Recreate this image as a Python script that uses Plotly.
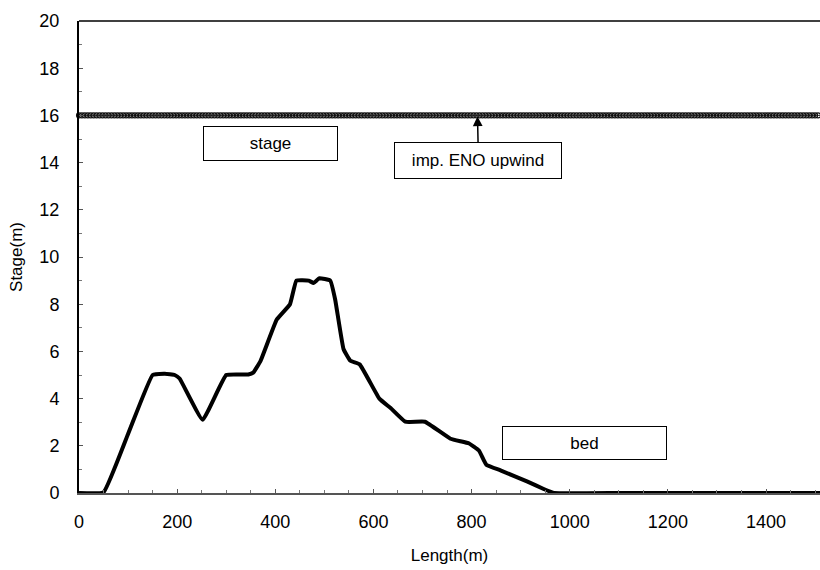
import plotly.graph_objects as go

# Bed profile
bed_x = [0, 50, 100, 150, 175, 195, 205, 252, 300, 345, 355, 370, 403, 430, 443,
         468, 478, 490, 512, 522, 539, 553, 572, 612, 635, 665, 705, 757, 795,
         815, 830, 860, 914, 948, 968, 1100, 1200, 1300, 1400, 1520]
bed_y = [0, 0.03, 2.5, 5.0, 5.05, 5.0, 4.85, 3.1, 5.0, 5.02, 5.1, 5.6, 7.35, 8.0, 9.0,
         9.0, 8.9, 9.1, 9.0, 8.2, 6.1, 5.6, 5.45, 4.0, 3.6, 3.02, 3.02, 2.3, 2.1,
         1.8, 1.2, 0.95, 0.48, 0.16, 0.0, 0.0, 0.0, 0.0, 0.0, 0.0]

# Water stage (constant 16 m along the reach, sampled every 6 m)
stage_x = list(range(0, 1524, 6))
stage_level = 16.0
stage_y = [stage_level] * len(stage_x)

x_ticks = [0, 200, 400, 600, 800, 1000, 1200, 1400]
y_ticks = [0, 2, 4, 6, 8, 10, 12, 14, 16, 18, 20]

FONT = "Liberation Sans, Arial, sans-serif"
NARROW = "Liberation Sans Narrow, Arial Narrow, Liberation Sans, sans-serif"

fig = go.Figure()
fig.add_trace(go.Scatter(
    x=stage_x, y=stage_y, mode="lines+markers",
    line=dict(color="#333", width=1),
    marker=dict(symbol="circle-open", size=5, color="#111", line=dict(width=1.1)),
    showlegend=False, cliponaxis=False))
fig.add_trace(go.Scatter(
    x=bed_x, y=bed_y, mode="lines",
    line=dict(color="black", width=4, shape="spline", smoothing=0.3),
    showlegend=False, cliponaxis=False))

box = dict(bordercolor="black", borderwidth=1, bgcolor="white",
           font=dict(family=FONT, size=17, color="black"))
fig.add_annotation(x=390, y=14.8, text="stage", showarrow=False,
                   width=131, height=31, **box)
fig.add_annotation(x=812, y=16, text="imp. ENO upwind", showarrow=True,
                   ax=1, ay=45, arrowhead=2, arrowsize=1.3, arrowwidth=1.5,
                   arrowcolor="black", width=164, height=33, standoff=1, **box)
fig.add_annotation(x=1030, y=2.12, text="bed", showarrow=False,
                   width=161, height=30, **box)

fig.update_layout(
    width=820, height=570,
    margin=dict(l=79, r=0, t=21, b=77),
    paper_bgcolor="white", plot_bgcolor="white",
    font=dict(family=FONT, size=18, color="black"),
    xaxis=dict(range=[0, 1510], tickvals=x_ticks, showgrid=False, zeroline=False,
               showline=True, linecolor="#555", linewidth=1.5,
               ticks="inside", ticklen=4, tickcolor="#555",
               minor=dict(ticks="inside", ticklen=3, dtick=50, tickcolor="#777"),
               ticklabelstandoff=12,
               tickfont=dict(family=NARROW, size=18),
               title=dict(text="Length(m)", font=dict(family=FONT, size=17), standoff=18)),
    yaxis=dict(range=[0, 20], tickvals=y_ticks, showgrid=False, zeroline=False,
               showline=True, linecolor="black", linewidth=2,
               ticks="inside", ticklen=4, tickcolor="#555",
               minor=dict(ticks="inside", ticklen=3, dtick=1, tickcolor="#777"),
               ticklabelstandoff=14,
               title=dict(text="Stage(m)", font=dict(size=17), standoff=12)),
)
fig.add_shape(type="line", xref="paper", yref="paper", x0=0, x1=1, y0=1, y1=1,
              line=dict(color="black", width=1.5))

fig.write_html("out.html")
